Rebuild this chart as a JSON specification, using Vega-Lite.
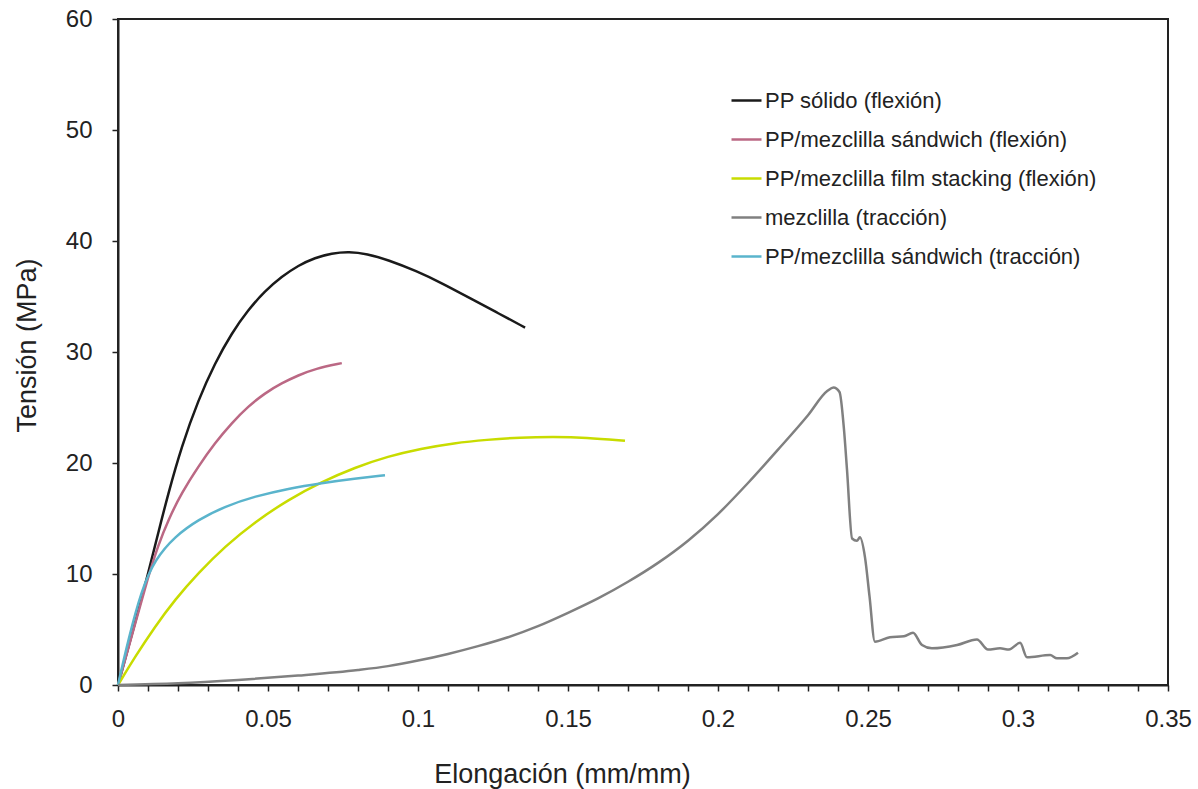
{
  "$schema": "https://vega.github.io/schema/vega-lite/v6.json",
  "autosize": "none",
  "width": 1050,
  "height": 666,
  "padding": {"left": 118, "top": 19, "right": 30, "bottom": 104},
  "background": "white",
  "config": {
    "view": {"stroke": "#222", "strokeWidth": 2},
    "font": "Liberation Sans",
    "axis": {
      "labelFont": "Liberation Sans",
      "titleFont": "Liberation Sans",
      "labelColor": "#222",
      "titleColor": "#222",
      "titleFontWeight": "normal",
      "domainColor": "#222",
      "domainWidth": 2,
      "tickColor": "#222",
      "tickWidth": 1.5,
      "tickSize": 6,
      "grid": false
    },
    "legend": {
      "labelFont": "Liberation Sans",
      "labelColor": "#222",
      "labelFontSize": 22,
      "labelLimit": 600,
      "symbolType": "stroke",
      "symbolSize": 900,
      "symbolStrokeWidth": 2.5,
      "rowPadding": 11,
      "labelOffset": 2,
      "padding": 0
    }
  },
  "data": {
    "values": [
      {"serie": "PP sólido (flexión)", "x": 0, "y": 0},
      {"serie": "PP sólido (flexión)", "x": 0.0057, "y": 5.6},
      {"serie": "PP sólido (flexión)", "x": 0.0101, "y": 10.1},
      {"serie": "PP sólido (flexión)", "x": 0.0134, "y": 13.7},
      {"serie": "PP sólido (flexión)", "x": 0.0168, "y": 17.3},
      {"serie": "PP sólido (flexión)", "x": 0.0212, "y": 21.5},
      {"serie": "PP sólido (flexión)", "x": 0.0268, "y": 25.7},
      {"serie": "PP sólido (flexión)", "x": 0.0323, "y": 29.0},
      {"serie": "PP sólido (flexión)", "x": 0.0379, "y": 31.7},
      {"serie": "PP sólido (flexión)", "x": 0.0434, "y": 33.8},
      {"serie": "PP sólido (flexión)", "x": 0.049, "y": 35.5},
      {"serie": "PP sólido (flexión)", "x": 0.0546, "y": 36.8},
      {"serie": "PP sólido (flexión)", "x": 0.0601, "y": 37.8},
      {"serie": "PP sólido (flexión)", "x": 0.0657, "y": 38.5},
      {"serie": "PP sólido (flexión)", "x": 0.0712, "y": 38.9},
      {"serie": "PP sólido (flexión)", "x": 0.077, "y": 39.05},
      {"serie": "PP sólido (flexión)", "x": 0.083, "y": 38.85},
      {"serie": "PP sólido (flexión)", "x": 0.09, "y": 38.3},
      {"serie": "PP sólido (flexión)", "x": 0.0995, "y": 37.3},
      {"serie": "PP sólido (flexión)", "x": 0.108, "y": 36.2},
      {"serie": "PP sólido (flexión)", "x": 0.117, "y": 34.9},
      {"serie": "PP sólido (flexión)", "x": 0.126, "y": 33.6},
      {"serie": "PP sólido (flexión)", "x": 0.1357, "y": 32.2},

      {"serie": "PP/mezclilla sándwich (flexión)", "x": 0, "y": 0},
      {"serie": "PP/mezclilla sándwich (flexión)", "x": 0.0057, "y": 5.5},
      {"serie": "PP/mezclilla sándwich (flexión)", "x": 0.0101, "y": 9.8},
      {"serie": "PP/mezclilla sándwich (flexión)", "x": 0.0134, "y": 12.6},
      {"serie": "PP/mezclilla sándwich (flexión)", "x": 0.0168, "y": 14.9},
      {"serie": "PP/mezclilla sándwich (flexión)", "x": 0.0212, "y": 17.3},
      {"serie": "PP/mezclilla sándwich (flexión)", "x": 0.0268, "y": 19.7},
      {"serie": "PP/mezclilla sándwich (flexión)", "x": 0.0323, "y": 21.8},
      {"serie": "PP/mezclilla sándwich (flexión)", "x": 0.0379, "y": 23.6},
      {"serie": "PP/mezclilla sándwich (flexión)", "x": 0.0434, "y": 25.1},
      {"serie": "PP/mezclilla sándwich (flexión)", "x": 0.049, "y": 26.3},
      {"serie": "PP/mezclilla sándwich (flexión)", "x": 0.0546, "y": 27.2},
      {"serie": "PP/mezclilla sándwich (flexión)", "x": 0.0601, "y": 27.9},
      {"serie": "PP/mezclilla sándwich (flexión)", "x": 0.0657, "y": 28.5},
      {"serie": "PP/mezclilla sándwich (flexión)", "x": 0.0746, "y": 29.0},

      {"serie": "PP/mezclilla film stacking (flexión)", "x": 0, "y": 0},
      {"serie": "PP/mezclilla film stacking (flexión)", "x": 0.0057, "y": 2.55},
      {"serie": "PP/mezclilla film stacking (flexión)", "x": 0.0123, "y": 5.25},
      {"serie": "PP/mezclilla film stacking (flexión)", "x": 0.019, "y": 7.7},
      {"serie": "PP/mezclilla film stacking (flexión)", "x": 0.0268, "y": 10.1},
      {"serie": "PP/mezclilla film stacking (flexión)", "x": 0.0357, "y": 12.5},
      {"serie": "PP/mezclilla film stacking (flexión)", "x": 0.0457, "y": 14.7},
      {"serie": "PP/mezclilla film stacking (flexión)", "x": 0.0568, "y": 16.7},
      {"serie": "PP/mezclilla film stacking (flexión)", "x": 0.0679, "y": 18.3},
      {"serie": "PP/mezclilla film stacking (flexión)", "x": 0.079, "y": 19.6},
      {"serie": "PP/mezclilla film stacking (flexión)", "x": 0.09, "y": 20.6},
      {"serie": "PP/mezclilla film stacking (flexión)", "x": 0.101, "y": 21.3},
      {"serie": "PP/mezclilla film stacking (flexión)", "x": 0.112, "y": 21.8},
      {"serie": "PP/mezclilla film stacking (flexión)", "x": 0.123, "y": 22.1},
      {"serie": "PP/mezclilla film stacking (flexión)", "x": 0.134, "y": 22.3},
      {"serie": "PP/mezclilla film stacking (flexión)", "x": 0.145, "y": 22.35},
      {"serie": "PP/mezclilla film stacking (flexión)", "x": 0.156, "y": 22.3},
      {"serie": "PP/mezclilla film stacking (flexión)", "x": 0.169, "y": 22.0},

      {"serie": "mezclilla (tracción)", "x": 0, "y": 0},
      {"serie": "mezclilla (tracción)", "x": 0.02, "y": 0.15},
      {"serie": "mezclilla (tracción)", "x": 0.04, "y": 0.45},
      {"serie": "mezclilla (tracción)", "x": 0.06, "y": 0.85},
      {"serie": "mezclilla (tracción)", "x": 0.08, "y": 1.35},
      {"serie": "mezclilla (tracción)", "x": 0.09, "y": 1.7},
      {"serie": "mezclilla (tracción)", "x": 0.1, "y": 2.2},
      {"serie": "mezclilla (tracción)", "x": 0.11, "y": 2.8},
      {"serie": "mezclilla (tracción)", "x": 0.12, "y": 3.5},
      {"serie": "mezclilla (tracción)", "x": 0.13, "y": 4.3},
      {"serie": "mezclilla (tracción)", "x": 0.14, "y": 5.3},
      {"serie": "mezclilla (tracción)", "x": 0.15, "y": 6.5},
      {"serie": "mezclilla (tracción)", "x": 0.16, "y": 7.8},
      {"serie": "mezclilla (tracción)", "x": 0.17, "y": 9.3},
      {"serie": "mezclilla (tracción)", "x": 0.18, "y": 11.0},
      {"serie": "mezclilla (tracción)", "x": 0.19, "y": 13.0},
      {"serie": "mezclilla (tracción)", "x": 0.2, "y": 15.4},
      {"serie": "mezclilla (tracción)", "x": 0.21, "y": 18.2},
      {"serie": "mezclilla (tracción)", "x": 0.22, "y": 21.2},
      {"serie": "mezclilla (tracción)", "x": 0.23, "y": 24.3},
      {"serie": "mezclilla (tracción)", "x": 0.2365, "y": 26.5},
      {"serie": "mezclilla (tracción)", "x": 0.2385, "y": 26.8},
      {"serie": "mezclilla (tracción)", "x": 0.2405, "y": 26.4},
      {"serie": "mezclilla (tracción)", "x": 0.242, "y": 23.0},
      {"serie": "mezclilla (tracción)", "x": 0.243, "y": 19.4},
      {"serie": "mezclilla (tracción)", "x": 0.2447, "y": 13.2},
      {"serie": "mezclilla (tracción)", "x": 0.2463, "y": 13.0},
      {"serie": "mezclilla (tracción)", "x": 0.2473, "y": 13.3},
      {"serie": "mezclilla (tracción)", "x": 0.249, "y": 11.5},
      {"serie": "mezclilla (tracción)", "x": 0.2505, "y": 8.0},
      {"serie": "mezclilla (tracción)", "x": 0.2523, "y": 3.9},
      {"serie": "mezclilla (tracción)", "x": 0.2573, "y": 4.3},
      {"serie": "mezclilla (tracción)", "x": 0.262, "y": 4.4},
      {"serie": "mezclilla (tracción)", "x": 0.265, "y": 4.7},
      {"serie": "mezclilla (tracción)", "x": 0.268, "y": 3.6},
      {"serie": "mezclilla (tracción)", "x": 0.2713, "y": 3.3},
      {"serie": "mezclilla (tracción)", "x": 0.2797, "y": 3.6},
      {"serie": "mezclilla (tracción)", "x": 0.2863, "y": 4.1},
      {"serie": "mezclilla (tracción)", "x": 0.29, "y": 3.2},
      {"serie": "mezclilla (tracción)", "x": 0.294, "y": 3.3},
      {"serie": "mezclilla (tracción)", "x": 0.297, "y": 3.2},
      {"serie": "mezclilla (tracción)", "x": 0.3007, "y": 3.8},
      {"serie": "mezclilla (tracción)", "x": 0.303, "y": 2.5},
      {"serie": "mezclilla (tracción)", "x": 0.3107, "y": 2.7},
      {"serie": "mezclilla (tracción)", "x": 0.313, "y": 2.4},
      {"serie": "mezclilla (tracción)", "x": 0.3163, "y": 2.4},
      {"serie": "mezclilla (tracción)", "x": 0.32, "y": 2.9},

      {"serie": "PP/mezclilla sándwich (tracción)", "x": 0, "y": 0},
      {"serie": "PP/mezclilla sándwich (tracción)", "x": 0.0034, "y": 4.05},
      {"serie": "PP/mezclilla sándwich (tracción)", "x": 0.0079, "y": 8.6},
      {"serie": "PP/mezclilla sándwich (tracción)", "x": 0.0123, "y": 11.3},
      {"serie": "PP/mezclilla sándwich (tracción)", "x": 0.019, "y": 13.4},
      {"serie": "PP/mezclilla sándwich (tracción)", "x": 0.0268, "y": 14.9},
      {"serie": "PP/mezclilla sándwich (tracción)", "x": 0.0357, "y": 16.1},
      {"serie": "PP/mezclilla sándwich (tracción)", "x": 0.0457, "y": 17.0},
      {"serie": "PP/mezclilla sándwich (tracción)", "x": 0.0568, "y": 17.7},
      {"serie": "PP/mezclilla sándwich (tracción)", "x": 0.0679, "y": 18.2},
      {"serie": "PP/mezclilla sándwich (tracción)", "x": 0.079, "y": 18.6},
      {"serie": "PP/mezclilla sándwich (tracción)", "x": 0.089, "y": 18.9}
    ]
  },
  "encoding": {
    "x": {
      "field": "x",
      "type": "quantitative",
      "scale": {"domain": [0, 0.35], "nice": false, "zero": false},
      "axis": {
        "title": "Elongación (mm/mm)",
        "values": [0, 0.01, 0.02, 0.03, 0.04, 0.05, 0.06, 0.07, 0.08, 0.09, 0.1, 0.11, 0.12, 0.13, 0.14, 0.15, 0.16, 0.17, 0.18, 0.19, 0.2, 0.21, 0.22, 0.23, 0.24, 0.25, 0.26, 0.27, 0.28, 0.29, 0.3, 0.31, 0.32, 0.33, 0.34, 0.35],
        "format": ".2~f",
        "labelExpr": "indexof(['0','0.05','0.1','0.15','0.2','0.25','0.3','0.35'], datum.label) >= 0 ? datum.label : ''",
        "labelFontSize": 24,
        "labelPadding": 16,
        "labelFlush": false,
        "labelOverlap": false,
        "titleFontSize": 27,
        "titleX": 444,
        "titleY": 97,
        "titleBaseline": "alphabetic",
        "titleAlign": "center"
      }
    },
    "y": {
      "field": "y",
      "type": "quantitative",
      "scale": {"domain": [0, 60], "nice": false},
      "axis": {
        "title": "Tensión  (MPa)",
        "values": [0, 10, 20, 30, 40, 50, 60],
        "labelFontSize": 24,
        "labelPadding": 20,
        "labelFlush": false,
        "titleFontSize": 27,
        "titleAngle": -90,
        "titleX": -83,
        "titleY": 326,
        "titleBaseline": "alphabetic",
        "titleAlign": "center"
      }
    },
    "color": {
      "field": "serie",
      "type": "nominal",
      "sort": null,
      "scale": {
        "domain": ["PP sólido (flexión)", "PP/mezclilla sándwich (flexión)", "PP/mezclilla film stacking (flexión)", "mezclilla (tracción)", "PP/mezclilla sándwich (tracción)"],
        "range": ["#1a1a1a", "#bb6884", "#c8dc00", "#808080", "#5ab4cc"]
      },
      "legend": {"title": null, "orient": "none", "legendX": 612, "legendY": 65}
    }
  },
  "layer": [
    {
      "transform": [{"filter": "datum.serie !== 'mezclilla (tracción)'"}],
      "mark": {"type": "line", "interpolate": "basis", "strokeWidth": 2.5}
    },
    {
      "transform": [{"filter": "datum.serie === 'mezclilla (tracción)'"}],
      "mark": {"type": "line", "interpolate": "monotone", "strokeWidth": 2.5}
    }
  ]
}
